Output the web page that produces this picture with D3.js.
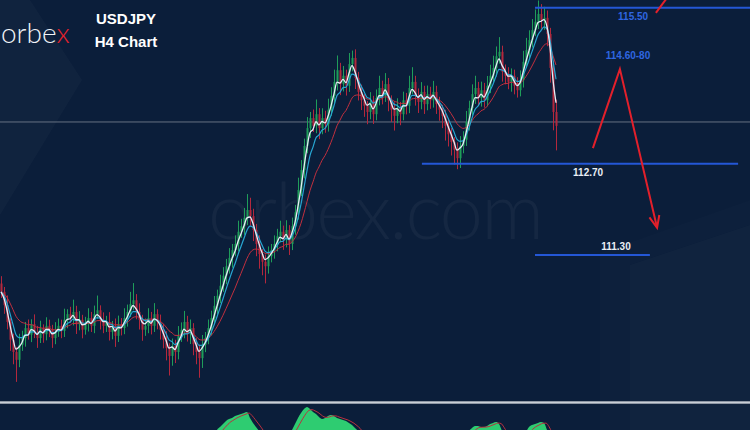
<!DOCTYPE html>
<html><head><meta charset="utf-8">
<script src="https://cdn.jsdelivr.net/npm/d3@7"></script>
<style>html,body{margin:0;padding:0;background:#0b1e3a;overflow:hidden}svg{display:block}</style>
</head><body><svg id="c" width="750" height="430"></svg>
<script>
// ---- data (USDJPY H4 closes) ----
const firstOpen = 110.55;
const closes = [
110.40,110.16,109.86,109.54,109.32,109.18,109.45,109.57,109.75,109.63,
109.82,109.68,109.57,109.75,109.64,109.79,109.72,109.57,109.68,109.79,
109.70,109.90,110.00,109.93,110.04,109.82,109.90,109.72,109.82,109.93,
109.79,110.00,110.07,109.90,109.79,109.86,109.68,109.79,109.61,109.82,
109.75,109.93,110.04,110.18,110.25,110.04,109.90,109.72,109.79,109.93,
109.79,110.00,109.86,109.72,109.54,109.39,109.25,109.43,109.32,109.61,
109.72,109.86,109.64,109.75,109.46,109.32,109.21,109.45,109.57,109.75,
109.93,110.15,110.33,110.51,110.69,110.86,111.01,111.15,111.26,111.48,
111.58,111.73,111.87,111.76,111.51,111.26,111.08,110.94,110.86,111.04,
111.15,111.26,111.40,111.48,111.33,111.51,111.26,111.58,111.83,112.23,
112.59,113.02,113.34,113.52,113.38,113.59,113.34,113.52,113.41,113.67,
113.92,114.17,114.38,114.13,114.28,114.10,114.49,114.60,114.24,113.99,
113.84,113.74,113.63,113.81,113.59,113.88,114.06,113.92,114.13,113.84,
113.67,113.56,113.70,113.59,113.84,113.74,114.06,114.17,113.92,113.81,
113.99,113.77,113.95,113.84,113.99,113.77,113.67,113.56,113.38,113.23,
113.09,112.95,112.80,113.02,113.13,113.45,113.70,113.95,114.06,113.88,
114.02,113.84,114.10,114.28,114.42,114.63,114.71,114.35,114.28,114.17,
114.28,114.10,114.02,114.20,114.53,114.74,114.92,115.10,115.25,115.39,
115.28,115.32,115.03,114.42,113.63,113.38];
// wick extensions beyond the body, in units of 0.022 yen
const wickUnit = 0.022;
const upperWick = [
6,4,8,3,5,4,9,6,5,7, 4,8,5,6,3,7,5,4,8,6, 5,9,4,6,10,5,7,4,6,8, 5,7,12,4,6,5,8,4,6,7,
5,8,6,10,14,5,7,4,6,8, 5,9,4,6,5,7,4,6,5,8, 6,9,5,7,4,5,6,8,5,7, 6,8,5,9,7,6,8,5,7,9,
6,8,13,10,6,5,7,4,6,8, 5,7,6,9,5,8,4,7,6,10, 8,6,9,5,7,12,5,8,6,9, 7,10,12,6,8,5,9,6,7,5,
6,5,4,8,5,7,10,6,9,5, 4,6,8,5,7,6,10,12,5,6, 8,5,7,6,9,5,6,4,5,6, 5,4,6,8,7,9,6,8,10,5,
7,6,8,9,10,8,12,5,6,7, 6,5,7,8,9,10,8,9,10,11, 8,9,6,5,6,10];
const lowerWick = [
5,7,6,9,10,18,6,5,7,4, 6,5,8,4,7,5,6,8,5,4, 6,5,7,4,6,8,5,7,4,6, 5,6,4,8,6,5,7,6,9,5,
6,5,7,4,5,6,8,9,5,6, 7,5,6,8,7,10,16,8,9,6, 5,7,6,8,9,10,16,8,6,5, 6,5,7,6,5,7,6,8,5,6,
5,7,6,8,9,10,12,11,14,6, 5,7,6,5,8,6,9,5,7,6, 5,7,6,8,5,6,9,5,7,6, 5,6,7,9,6,8,5,6,9,7,
8,9,10,6,8,5,6,7,5,9, 10,12,6,9,5,7,6,5,8,9, 6,8,5,7,6,8,9,10,12,10, 11,12,9,8,6,5,7,6,8,6,
7,6,5,6,5,7,6,8,7,6, 8,7,6,5,6,5,7,6,5,6, 7,8,10,12,15,20];
// lower-panel oscillator (only its upper part is visible)
const oscillator = [
0,0,0,0,0,0,0,0,0,0, 0,0,0,0,0,0,0,0,0,0, 0,0,0,0,0,0,0,0,0,0, 0,0,0,0,0,0,0,0,0,0,
0,0,0,0,0,0,0,0,0,0, 0,0,0,0,0,0,0,0,0,0, 0,0,0,0,0,0,0,0,0,0, 0,0,
10,13,16,19,21,22,24,25,26,27,28,22,17,13,9,4,
0,0,0,0,0,0,0,0,
4,10,16,22,27,31,33,31,28,26,23,21,22,24,25,24,22,21,20,19,17,15,12,9,4,
0,0,0,0,0,0,0,0,0,0, 0,0,0,0,0,0,0,0,0,0, 0,0,0,0,0,0,0,0,0,0, 0,0,0,0,
3,9,12,14,14,13,13,14,16,17,18,16,9,3,
0,0,0,0,0,
3,8,13,15,16,17,18,17,10,2,
0,0];
const maPeriods = [14, 6, 3];          // red, blue, white
const refLevel = 113.45;                // thin grey horizontal line
const levelLabels = ["115.50", "112.70", "111.30"];
const levelValues = [115.50, 112.70, 111.06];
const levelFrom = [178, 140.3, 178];
const levelTo = [250, 245.7, 216.3];
const levelLabelAt = [210.7, 195.7, 205];
const targetLabel = "114.60-80";
const pathIdx = [197.3, 206.3, 218.7];
const pathPrice = [112.98, 114.40, 111.55];
const upArrowIdx = [218.3, 222.3];
const upArrowPrice = [115.41, 115.70];

// ---- drawing ----
const W = 750, H = 430;
const svg = d3.select("#c");
const x = d3.scaleLinear().domain([0, 1]).range([1, 4]);       // 3px per candle
const y = d3.scaleLinear().domain([115.64, 115.64 - 430/55.7]).range([0, 430]);
const oy = d3.scaleLinear().domain([0, 35]).range([440, 405]);

svg.append("rect").attr("width", W).attr("height", H).attr("fill", "#0b1e3a");
svg.append("polygon").attr("points", "0,0 30,0 82,80 0,215").attr("fill", "rgba(255,255,255,0.022)");
svg.append("polygon").attr("points", "630,265 750,225 750,430 630,430").attr("fill", "rgba(255,255,255,0.025)");
svg.append("polygon").attr("points", "600,253 750,200 750,225 630,265 630,430 600,430").attr("fill", "rgba(255,255,255,0.012)");
svg.append("text").attr("x", 376).attr("y", 239).attr("text-anchor", "middle")
  .attr("font-family", "Lato, 'Open Sans', sans-serif").attr("font-weight", 300)
  .attr("font-size", 78).attr("fill", "rgba(255,255,255,0.045)").attr("textLength", 336)
  .text("orbex.com");

svg.append("line").attr("x1", 0).attr("x2", W).attr("y1", y(refLevel)).attr("y2", y(refLevel))
  .attr("stroke", "#7d8796").attr("stroke-width", 1).attr("opacity", 0.8);

const candles = closes.map((c, i) => {
  const o = i === 0 ? firstOpen : closes[i - 1];
  return {i, o, c, h: Math.max(o, c) + upperWick[i] * wickUnit, l: Math.min(o, c) - lowerWick[i] * wickUnit};
});
const green = "#1f9d5a", red = "#b3283d";
const g = svg.append("g");
g.selectAll("line.w").data(candles).join("line")
  .attr("x1", d => x(d.i) + 0.5).attr("x2", d => x(d.i) + 0.5)
  .attr("y1", d => y(d.h)).attr("y2", d => y(d.l))
  .attr("stroke", d => d.c >= d.o ? green : red).attr("stroke-width", 1);
g.selectAll("rect").data(candles).join("rect")
  .attr("x", d => x(d.i) - 0.5).attr("width", 2)
  .attr("y", d => y(Math.max(d.o, d.c)))
  .attr("height", d => Math.max(1, Math.abs(y(d.o) - y(d.c))))
  .attr("fill", d => d.c >= d.o ? green : red);

function ema(arr, n) { const k = 2 / (n + 1); let e = arr[0]; return arr.map(v => (e = v * k + e * (1 - k))); }
const maColors = ["#c2303f", "#28a6d2", "#e6edf5"];
const maWidths = [1, 1.2, 1.3];
const lineGen = d3.line().x((d, i) => x(i)).y(d => y(d)).curve(d3.curveMonotoneX);
maPeriods.forEach((p, k) => {
  svg.append("path").datum(ema(closes, p)).attr("d", lineGen)
    .attr("fill", "none").attr("stroke", maColors[k]).attr("stroke-width", maWidths[k]);
});

svg.append("rect").attr("x", 0).attr("width", W).attr("y", 401).attr("height", 3).attr("fill", "#8e97a4");
svg.append("line").attr("x1", 0).attr("x2", W).attr("y1", 402.5).attr("y2", 402.5).attr("stroke", "#c9cfd7").attr("stroke-width", 1);

svg.append("clipPath").attr("id", "pan").append("rect").attr("x", 0).attr("y", 405).attr("width", W).attr("height", 30);
const pan = svg.append("g").attr("clip-path", "url(#pan)");
pan.append("path").datum(oscillator)
  .attr("d", d3.area().x((d, i) => x(i)).y0(oy(0)).y1(d => oy(d)).curve(d3.curveMonotoneX))
  .attr("fill", "#2ecc71");
pan.append("path").datum(ema(oscillator, 3))
  .attr("d", d3.line().x((d, i) => x(i) + 2).y(d => oy(d)).curve(d3.curveMonotoneX))
  .attr("fill", "none").attr("stroke", "#b8313f").attr("stroke-width", 1);

const blue = "#2457d6";
levelValues.forEach((v, k) => {
  svg.append("line").attr("x1", x(levelFrom[k])).attr("x2", x(levelTo[k]))
    .attr("y1", y(v)).attr("y2", y(v)).attr("stroke", blue).attr("stroke-width", 2);
});
const lab = (t, i, yy, col) => svg.append("text").attr("x", x(i)).attr("y", yy).attr("text-anchor", "middle")
  .attr("font-family", "'Liberation Sans', Arial, sans-serif").attr("font-weight", "bold")
  .attr("font-size", 10).attr("fill", col).text(t);
lab(levelLabels[0], levelLabelAt[0], y(levelValues[0]) + 12, "#2f66e0");
lab(levelLabels[1], levelLabelAt[1], y(levelValues[1]) + 12, "#e9eef5");
lab(levelLabels[2], levelLabelAt[2], y(levelValues[2]) - 5, "#e9eef5");
lab(targetLabel, 209, y(pathPrice[1]) - 10, "#2f66e0");

const arrowRed = "#e3202b";
const pts = pathIdx.map((i, k) => [x(i), y(pathPrice[k])]);
svg.append("path").attr("d", d3.line()(pts)).attr("fill", "none").attr("stroke", arrowRed).attr("stroke-width", 2);
const end = pts[2], prev = pts[1];
const ang = Math.atan2(end[1] - prev[1], end[0] - prev[0]);
const ah = 13, aw = 0.4;
svg.append("path").attr("d", d3.line()([
  [end[0] - ah * Math.cos(ang - aw), end[1] - ah * Math.sin(ang - aw)], end,
  [end[0] - ah * Math.cos(ang + aw), end[1] - ah * Math.sin(ang + aw)]]))
  .attr("fill", "none").attr("stroke", arrowRed).attr("stroke-width", 2);
svg.append("line").attr("x1", x(upArrowIdx[0])).attr("y1", y(upArrowPrice[0]))
  .attr("x2", x(upArrowIdx[1])).attr("y2", y(upArrowPrice[1])).attr("stroke", arrowRed).attr("stroke-width", 2);

const logo = svg.append("text").attr("x", 1).attr("y", 43)
  .attr("font-family", "Lato, 'Open Sans', sans-serif").attr("font-weight", 300).attr("font-size", 28).attr("fill", "#f2f4f7");
logo.append("tspan").text("orbe");
logo.append("tspan").attr("fill", "#e4222d").text("x");
const tt = (t, yy) => svg.append("text").attr("x", 126).attr("y", yy).attr("text-anchor", "middle")
  .attr("font-family", "'Liberation Sans', Arial, sans-serif").attr("font-weight", "bold")
  .attr("font-size", 15).attr("fill", "#ffffff").text(t);
tt("USDJPY", 24);
tt("H4 Chart", 47);
</script></body></html>
